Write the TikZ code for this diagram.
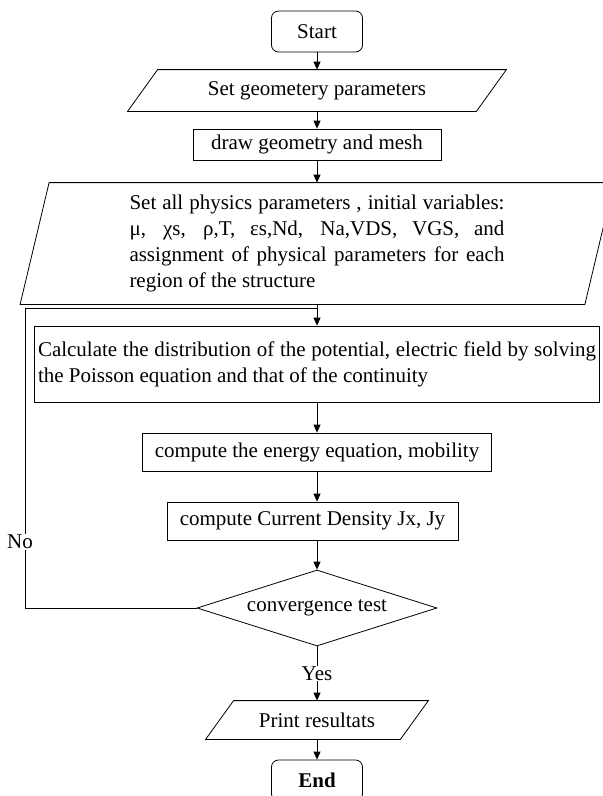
\documentclass[tikz,border=0pt]{standalone}
\usepackage{fontspec}
\setmainfont{Liberation Serif}
\usetikzlibrary{shapes.geometric,arrows.meta}

\newcommand*\iobox[2]{\draw ([xshift=#2]#1.north west) -- (#1.north east) -- ([xshift=-#2]#1.south east) -- (#1.south west) -- cycle;}

\tikzset{
    every node/.style={font=\fontsize{21}{26}\selectfont},
    box/.style 2 args={
        draw,
        rectangle,
        minimum width=#1,
        minimum height=#2,
        inner sep=3pt,
        align=center
    },
    term/.style={draw, rounded corners=7pt, minimum width=91pt, minimum height=41pt},
    io/.style 2 args={minimum width=#1, minimum height=#2, inner sep=0pt, align=center},
    test/.style={draw, diamond, aspect=3.16, inner sep=0pt, minimum width=240pt, minimum height=76pt},
    arrow/.style={-{Triangle[length=8pt,width=7pt]}}
}

\begin{document}
\begin{tikzpicture}[x=1pt,y=-1pt,line width=0.8pt]

    \clip (0,0) rectangle (603,796);

    % The steps, from top to bottom.
    \node[term] (start) at (317,31.5) {Start};
    \node[io={378pt}{41pt}] (geo) at (317,90.5) {Set geometery parameters};
    \node[box={248pt}{31pt}] (mesh) at (317,144.5) {draw geometry and mesh};
    \node[io={593pt}{121pt}, text width=375pt, align=justify] (phys) at (317,243.5)
        {\hyphenpenalty=10000 Set all physics parameters , initial variables:\linebreak
         μ, χs, ρ,T, εs,Nd, Na,VDS, VGS, and\linebreak
         assignment of physical parameters for each\linebreak
         region of the structure};
    \node[box={565pt}{76pt}, text width=558pt, align=justify] (poisson) at (317,364)
        {\hyphenpenalty=10000 Calculate the distribution of the potential, electric field by solving\linebreak
         the Poisson equation and that of the continuity};
    \node[box={349pt}{38pt}] (energy) at (317,452) {compute the energy equation, mobility};
    \node[box={291pt}{38pt}] (current) at (312.5,521) {compute Current Density Jx, Jy};
    \node[test] (conv) at (317,608) {convergence test};
    \node[io={222pt}{38pt}] (print) at (317,720) {Print resultats};
    \node[term] (end) at (317,780.5) {\bfseries End};

    % Slanted outlines of the input/output steps.
    \iobox{geo}{30pt}
    \iobox{phys}{29pt}
    \iobox{print}{28pt}

    % Main flow.
    \draw[arrow] (start) -- (geo);
    \draw[arrow] (geo) -- (mesh);
    \draw[arrow] (mesh) -- (phys);
    \draw[arrow] (phys) -- (poisson);
    \draw[arrow] (poisson) -- (energy);
    \draw[arrow] (energy.south) -- (energy.south |- current.north);
    \draw[arrow] (current.south -| conv.north) -- (conv);
    \draw[arrow] (conv) -- node[fill=white, inner sep=1pt] {Yes} (print);
    \draw[arrow] (print) -- (end);

    % Loop back when the test fails.
    \coordinate (back) at (25,308);
    \draw (conv.west) -| node[pos=0.61, fill=white, inner sep=1pt, xshift=-5pt] {No} (back)
        -- (back -| phys.south);

\end{tikzpicture}
\end{document}
